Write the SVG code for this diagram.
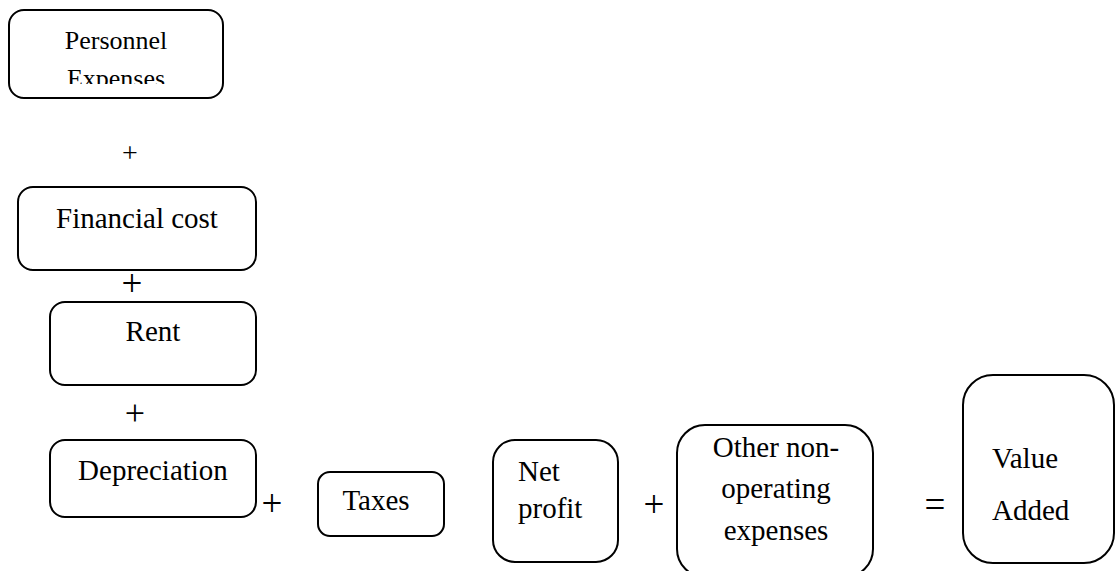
<svg xmlns="http://www.w3.org/2000/svg" width="1116" height="571" viewBox="0 0 1116 571">
  <style>
    .box { fill: #ffffff; stroke: #000000; stroke-width: 2; }
    .lbl { font-family: "Liberation Serif", "Times New Roman", serif; font-size: 29px; fill: #000000; }
    .op { font-family: "Liberation Serif", "Times New Roman", serif; fill: #000000; text-anchor: middle; }
    .mid { text-anchor: middle; }
  </style>
  <defs>
    <clipPath id="personnel-clip">
      <rect x="0" y="0" width="240" height="84"/>
    </clipPath>
  </defs>
  <rect width="1116" height="571" fill="#ffffff"/>

  <g id="personnel">
    <rect class="box" x="9" y="10" width="214" height="88" rx="15"/>
    <g clip-path="url(#personnel-clip)">
      <text class="lbl mid" x="116" y="49" style="font-size:26px">Personnel</text>
      <text class="lbl mid" x="116" y="87" style="font-size:26px">Expenses</text>
    </g>
  </g>

  <g id="financial-cost">
    <rect class="box" x="18" y="187" width="238" height="83" rx="15"/>
    <text class="lbl mid" x="137" y="228">Financial cost</text>
  </g>

  <g id="rent">
    <rect class="box" x="50" y="302" width="206" height="83" rx="15"/>
    <text class="lbl mid" x="153" y="341">Rent</text>
  </g>

  <g id="depreciation">
    <rect class="box" x="50" y="440" width="206" height="77" rx="15"/>
    <text class="lbl mid" x="153" y="480">Depreciation</text>
  </g>

  <g id="taxes">
    <rect class="box" x="318" y="472" width="126" height="64" rx="12"/>
    <text class="lbl mid" x="376" y="510">Taxes</text>
  </g>

  <g id="net-profit">
    <rect class="box" x="493" y="440" width="125" height="122" rx="22"/>
    <text class="lbl" x="518" y="481">Net</text>
    <text class="lbl" x="518" y="518">profit</text>
  </g>

  <g id="other-expenses">
    <rect class="box" x="677" y="425" width="196" height="152" rx="28"/>
    <text class="lbl mid" x="776" y="457">Other non-</text>
    <text class="lbl mid" x="776" y="498">operating</text>
    <text class="lbl mid" x="776" y="540">expenses</text>
  </g>

  <g id="value-added">
    <rect class="box" x="963" y="375" width="151" height="188" rx="30"/>
    <text class="lbl" x="992" y="468">Value</text>
    <text class="lbl" x="992" y="520">Added</text>
  </g>

  <!-- operators joining the terms of the sum -->
  <g id="connectors">
    <text class="op" x="130" y="162" style="font-size:28px">+</text>
    <text class="op" x="132" y="296" style="font-size:37px">+</text>
    <text class="op" x="135" y="425" style="font-size:36px">+</text>
    <text class="op" x="272" y="516" style="font-size:37px">+</text>
    <text class="op" x="654" y="517" style="font-size:37px">+</text>
    <text class="op" x="935" y="517" style="font-size:37px">=</text>
  </g>
</svg>
